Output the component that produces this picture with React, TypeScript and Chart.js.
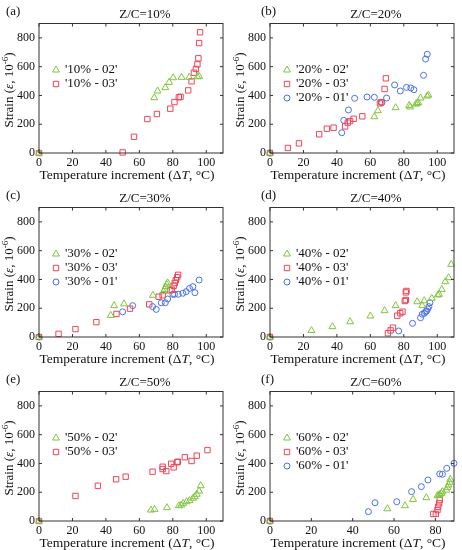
import React, { useEffect, useRef } from "react";
import { Chart, registerables } from "chart.js";

Chart.register(...registerables);

type Pt = [number, number];

// (a) Z/C=10%
const s10_02: Pt[] = [[0, 0], [68.9, 384], [70.9, 431], [75.5, 454], [77.8, 491], [80.2, 523], [85.2, 526], [89.8, 526], [94.7, 530], [95.7, 533]];
const s10_03: Pt[] = [[0, 0], [50, 4], [56.8, 113], [64.8, 236], [70.5, 271], [78.5, 308], [81, 354], [83.6, 387], [84.6, 391], [89.2, 435], [91.2, 498], [92.6, 558], [93.8, 584], [94.7, 616], [95.3, 658], [95.7, 764], [96.3, 839]];

// (b) Z/C=20%
const s20_02: Pt[] = [[0, 0], [62.4, 252], [64.5, 294], [75.1, 315], [83.2, 331], [83.8, 320], [87.2, 340], [88, 345], [88.6, 350], [90, 382], [94, 396], [94.7, 403]];
const s20_03: Pt[] = [[0, 0], [10.7, 35], [17.3, 67], [29.4, 130], [34, 169], [38, 176], [44.9, 185], [46.5, 211], [47.9, 222], [50, 238], [55.2, 255], [65.7, 345], [66.5, 354], [68.5, 445], [69.3, 519]];
const s20_01: Pt[] = [[0, 0], [42.9, 141], [44.1, 227], [46.9, 299], [50.6, 380], [58, 389], [62.4, 387], [66.9, 350], [69.7, 382], [74.5, 473], [77.9, 431], [81.6, 456], [84.2, 452], [86, 440], [91.8, 540], [93, 653], [94, 686]];

// (c) Z/C=30%
const s30_02: Pt[] = [[0, 0], [42.9, 150], [44.9, 218], [50.8, 230], [68.1, 290], [74.5, 315], [75.1, 331], [75.7, 350], [76.3, 366], [76.9, 377]];
const s30_03: Pt[] = [[0, 0], [11.7, 22], [21.8, 55], [34.3, 103], [46.3, 160], [54.4, 197], [65.9, 227], [71.5, 280], [73.9, 290], [78.5, 325], [79.5, 328], [80.5, 355], [81.2, 375], [81.8, 395], [82.6, 415], [83.2, 432]];
const s30_01: Pt[] = [[0, 0], [50, 175], [56, 218], [67.9, 211], [70.1, 192], [73.1, 238], [75.5, 238], [76.9, 264], [80, 297], [81, 297], [83.2, 297], [86, 304], [88, 315], [90, 338], [92, 350], [93.2, 308], [95.7, 396]];

// (d) Z/C=40%
const s40_02: Pt[] = [[0, 0], [24.8, 45], [37.3, 72], [47.9, 106], [60, 146], [68.5, 183], [75.1, 218], [88, 245], [91, 218], [92.2, 252], [96.7, 269], [100.3, 292], [101.1, 297], [102.7, 331], [104.8, 384], [106.8, 412], [108.3, 505]];
const s40_03: Pt[] = [[0, 0], [70.5, 26], [72.1, 46], [73.5, 65], [76.1, 148], [77.9, 165], [79.2, 176], [80.6, 250], [81.2, 257], [81.2, 310], [81.6, 320]];
const s40_01: Pt[] = [[0, 0], [76.9, 42], [85.2, 95], [90, 134], [91, 158], [92.3, 165], [93, 176], [93.7, 181], [94.3, 195], [95, 211], [95.6, 238]];

// (e) Z/C=50%
const s50_02: Pt[] = [[0, 0], [66.9, 76], [69.1, 81], [76.5, 93], [83.6, 106], [85, 111], [86.2, 123], [88.2, 134], [90, 141], [92, 158], [93.2, 169], [94.3, 186], [95.7, 208], [96.7, 245]];
const s50_03: Pt[] = [[0, 0], [21.8, 174], [35.2, 245], [46.1, 290], [51.8, 308], [67.9, 343], [73.9, 377], [73.9, 361], [76.1, 347], [79, 398], [80.5, 373], [82.6, 408], [83, 412], [87.2, 443], [91.2, 417], [94.3, 454], [100.7, 493]];

// (f) Z/C=60%
const s60_02: Pt[] = [[0, 0], [56.8, 85], [65.3, 106], [69.2, 150], [75.6, 162], [81, 176], [81.8, 181], [82.2, 186], [82.9, 192], [83.4, 204], [85.3, 215], [85.8, 234], [86.3, 250], [86.9, 269], [87.2, 290]];
const s60_03: Pt[] = [[0, 0], [79, 49], [80.2, 49], [81, 76], [81.4, 99], [81.8, 123], [82.1, 146]];
const s60_01: Pt[] = [[0, 0], [47.6, 65], [50.8, 127], [61.3, 134], [68.5, 204], [73.2, 239], [76.4, 285], [82.1, 327], [83.4, 325], [85.5, 366], [89, 401]];

const GREEN = "#7fc63c";
const RED = "#ee4457";
const BLUE = "#4a70e8";
const SERIF = '"Liberation Serif", "Times New Roman", serif';

type Shape = "triangle" | "rect" | "circle";

interface SeriesDef {
  label: string;
  data: Pt[];
  color: string;
  shape: Shape;
}

interface PanelDef {
  letter: string;
  title: string;
  xMax: number;
  series: SeriesDef[];
}

const g = (label: string, data: Pt[]): SeriesDef => ({ label, data, color: GREEN, shape: "triangle" });
const r = (label: string, data: Pt[]): SeriesDef => ({ label, data, color: RED, shape: "rect" });
const b = (label: string, data: Pt[]): SeriesDef => ({ label, data, color: BLUE, shape: "circle" });

const panels: PanelDef[] = [
  { letter: "(a)", title: "Z/C=10%", xMax: 110, series: [g("'10% - 02'", s10_02), r("'10% - 03'", s10_03)] },
  { letter: "(b)", title: "Z/C=20%", xMax: 110, series: [g("'20% - 02'", s20_02), r("'20% - 03'", s20_03), b("'20% - 01'", s20_01)] },
  { letter: "(c)", title: "Z/C=30%", xMax: 110, series: [g("'30% - 02'", s30_02), r("'30% - 03'", s30_03), b("'30% - 01'", s30_01)] },
  { letter: "(d)", title: "Z/C=40%", xMax: 110, series: [g("'40% - 02'", s40_02), r("'40% - 03'", s40_03), b("'40% - 01'", s40_01)] },
  { letter: "(e)", title: "Z/C=50%", xMax: 110, series: [g("'50% - 02'", s50_02), r("'50% - 03'", s50_03)] },
  { letter: "(f)", title: "Z/C=60%", xMax: 89, series: [g("'60% - 02'", s60_02), r("'60% - 03'", s60_03), b("'60% - 01'", s60_01)] },
];

type Seg = { t: string; italic?: boolean; sup?: boolean };

const fontOf = (size: number, italic?: boolean) => `${italic ? "italic " : ""}${size}px ${SERIF}`;

function drawRich(ctx: CanvasRenderingContext2D, segs: Seg[], cx: number, cy: number, size: number) {
  const widths = segs.map((s) => {
    ctx.font = fontOf(s.sup ? size * 0.7 : size, s.italic);
    return ctx.measureText(s.t).width;
  });
  const total = widths.reduce((a, w) => a + w, 0);
  let x = cx - total / 2;
  ctx.textAlign = "left";
  ctx.textBaseline = "middle";
  segs.forEach((s, i) => {
    ctx.font = fontOf(s.sup ? size * 0.7 : size, s.italic);
    ctx.fillText(s.t, x, s.sup ? cy - size * 0.35 : cy);
    x += widths[i];
  });
}

function drawMarker(ctx: CanvasRenderingContext2D, shape: Shape, x: number, y: number, color: string) {
  ctx.save();
  ctx.strokeStyle = color;
  ctx.lineWidth = 1;
  ctx.beginPath();
  if (shape === "triangle") {
    ctx.moveTo(x, y - 4);
    ctx.lineTo(x + 3.46, y + 2);
    ctx.lineTo(x - 3.46, y + 2);
    ctx.closePath();
  } else if (shape === "rect") {
    ctx.rect(x - 2.7, y - 2.7, 5.4, 5.4);
  } else {
    ctx.arc(x, y, 3, 0, Math.PI * 2);
  }
  ctx.stroke();
  ctx.restore();
}

const xLabel: Seg[] = [{ t: "Temperature increment (Δ" }, { t: "T", italic: true }, { t: ", °C)" }];
const yLabel: Seg[] = [{ t: "Strain (" }, { t: "ε", italic: true }, { t: ", 10" }, { t: "-6", sup: true }, { t: ")" }];

const makeDecor = (def: PanelDef, col: number) => ({
  id: "decor",
  afterDraw(chart: Chart) {
    const { ctx, chartArea: a } = chart;
    const xs = chart.scales.x;
    const ys = chart.scales.y;
    ctx.save();

    // box with inward ticks on all sides
    ctx.strokeStyle = "#333";
    ctx.lineWidth = 1;
    ctx.strokeRect(a.left, a.top, a.right - a.left, a.bottom - a.top);
    ctx.beginPath();
    xs.ticks.forEach((t) => {
      const px = xs.getPixelForValue(t.value);
      ctx.moveTo(px, a.bottom);
      ctx.lineTo(px, a.bottom - 3);
      ctx.moveTo(px, a.top);
      ctx.lineTo(px, a.top + 3);
    });
    ys.ticks.forEach((t) => {
      const py = ys.getPixelForValue(t.value);
      ctx.moveTo(a.left, py);
      ctx.lineTo(a.left + 3, py);
      ctx.moveTo(a.right, py);
      ctx.lineTo(a.right - 3, py);
    });
    ctx.stroke();

    ctx.fillStyle = "#111";

    // panel letter + title
    ctx.font = fontOf(13);
    ctx.textAlign = "left";
    ctx.textBaseline = "middle";
    ctx.fillText(def.letter, col === 0 ? 6 : 30, 12);
    ctx.textAlign = "center";
    ctx.fillText(def.title, 145, 15);

    // axis titles
    drawRich(ctx, xLabel, 127, 175, 13.5);
    ctx.save();
    ctx.translate(10, 90);
    ctx.rotate(-Math.PI / 2);
    drawRich(ctx, yLabel, 0, 0, 13);
    ctx.restore();

    // legend
    def.series.forEach((s, i) => {
      const y = 70 + i * 14;
      drawMarker(ctx, s.shape, 56, y, s.color);
      ctx.fillStyle = "#111";
      ctx.font = fontOf(13);
      ctx.textAlign = "left";
      ctx.textBaseline = "middle";
      ctx.fillText(s.label, 65, y);
    });

    ctx.restore();
  },
});

const radiusOf = (shape: Shape) => (shape === "triangle" ? 4 : shape === "rect" ? 3.8 : 3);

function Panel({ def, col, left, top }: { def: PanelDef; col: number; left: number; top: number }) {
  const chartRef = useRef<HTMLCanvasElement | null>(null);

  useEffect(() => {
    if (!chartRef.current) return;
    const tickFont = { family: SERIF, size: 12 };

    const chart = new Chart(chartRef.current, {
      type: "scatter",
      data: {
        datasets: def.series.map((s) => ({
          label: s.label,
          data: s.data,
          pointStyle: s.shape,
          pointRadius: radiusOf(s.shape),
          pointBorderColor: s.color,
          pointBackgroundColor: "rgba(0,0,0,0)",
          pointBorderWidth: 1,
          clip: false as any,
        })),
      },
      options: {
        responsive: false,
        animation: false,
        layout: { padding: { top: 23.5, right: 8, left: 0, bottom: 0 } },
        plugins: {
          legend: { display: false },
          tooltip: { enabled: false },
          title: { display: false },
        },
        scales: {
          x: {
            type: "linear",
            min: 0,
            max: def.xMax,
            ticks: { stepSize: 20, includeBounds: false, font: tickFont, color: "#111", padding: 3, maxRotation: 0, autoSkip: false },
            grid: { display: false, drawTicks: false },
            border: { display: false },
            afterFit: (s: any) => {
              s.height = 30;
            },
          },
          y: {
            type: "linear",
            min: 0,
            max: 900,
            ticks: { stepSize: 200, includeBounds: false, font: tickFont, color: "#111", padding: 4 },
            grid: { display: false, drawTicks: false },
            border: { display: false },
            afterFit: (s: any) => {
              s.width = 39;
            },
          },
        },
      } as any,
      plugins: [makeDecor(def, col)],
    });

    return () => {
      chart.destroy();
    };
  }, [def, col]);

  return (
    <canvas
      ref={chartRef}
      width={231}
      height={183}
      style={{ position: "absolute", left, top, width: 231, height: 183 }}
    />
  );
}

export default function App() {
  return (
    <div style={{ position: "absolute", left: 0, top: 0, width: 462, height: 550, background: "#fff", overflow: "hidden" }}>
      {panels.map((p, i) => (
        <Panel key={p.letter} def={p} col={i % 2} left={(i % 2) * 231} top={Math.floor(i / 2) * 184} />
      ))}
    </div>
  );
}
